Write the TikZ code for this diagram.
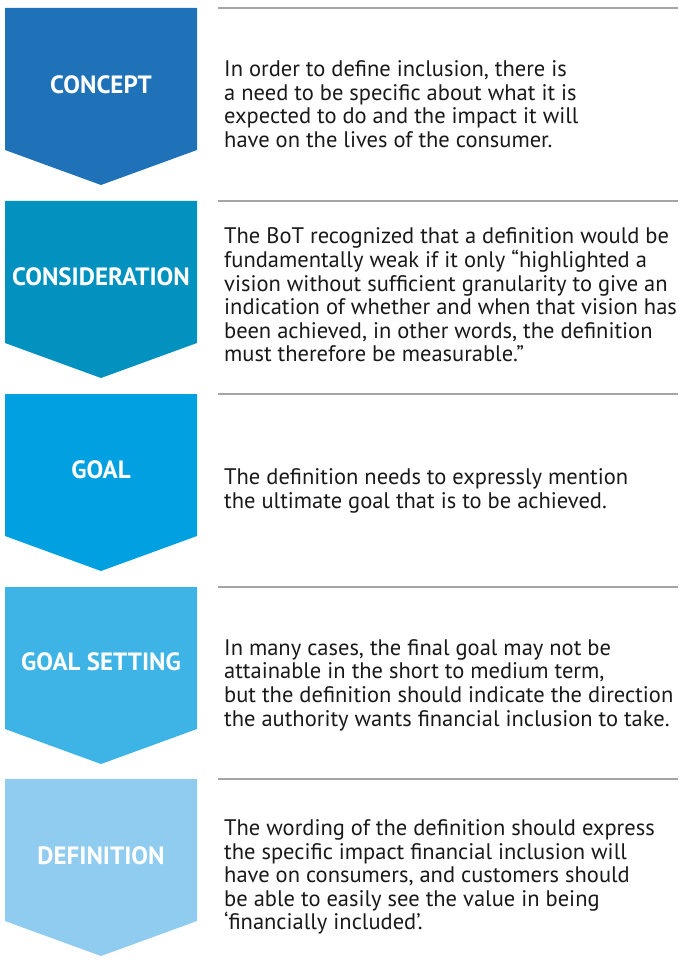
\documentclass[tikz,border=0pt]{standalone}
\usepackage{fontspec}
\setmainfont{PT Sans}
\definecolor{cConcept}{RGB}{31,113,184}
\definecolor{cConsid}{RGB}{3,145,192}
\definecolor{cGoal}{RGB}{0,160,225}
\definecolor{cGoalSet}{RGB}{62,180,230}
\definecolor{cDef}{RGB}{144,203,240}
\definecolor{rulegray}{RGB}{165,165,165}
\tikzset{
  chev/.style={fill=#1, draw=none},
  lbl/.style={text=white, font=\fontsize{25}{28}\selectfont\bfseries, inner sep=0pt},
  body/.style={anchor=west, align=left, inner sep=0pt, text=black!90,
    font=\fontsize{22.5}{23.6}\selectfont},
  sep/.style={draw=rulegray, line width=1.4pt}
}
\newcommand{\chevron}[3]{%
  \fill[chev=#2] (5,#1) -- (197,#1) -- (197,#1+142) -- (101,#1+177) -- (5,#1+142) -- cycle;
  \draw[sep] (218,#1) -- (678,#1);
}
\begin{document}
\begin{tikzpicture}[x=1pt,y=-1pt]
\useasboundingbox (0,0) rectangle (678,965);
\chevron{8}{cConcept}{}
\chevron{201}{cConsid}{}
\chevron{394}{cGoal}{}
\chevron{587}{cGoalSet}{}
\chevron{779}{cDef}{}
\node[lbl] (l1) at (101,85) {CONCEPT};
\node[lbl] (l2) at (101,277) {CONSIDERATION};
\node[lbl] (l3) at (101,470) {GOAL};
\node[lbl] (l4) at (101,662) {GOAL SETTING};
\node[lbl] (l5) at (101,856) {DEFINITION};
\node[body] (t1) at (224,104) {In order to define inclusion, there is\\a need to be specific about what it is\\expected to do and the impact it will\\have on the lives of the consumer.};
\node[body] (t2) at (224,295) {The BoT recognized that a definition would be\\fundamentally weak if it only “highlighted a\\vision without sufficient granularity to give an\\indication of whether and when that vision has\\been achieved, in other words, the definition\\must therefore be measurable.”};
\node[body] (t3) at (224,491) {The definition needs to expressly mention\\the ultimate goal that is to be achieved.};
\node[body] (t4) at (224,685) {In many cases, the final goal may not be\\attainable in the short to medium term,\\but the definition should indicate the direction\\the authority wants financial inclusion to take.};
\node[body] (t5) at (224,877) {The wording of the definition should express\\the specific impact financial inclusion will\\have on consumers, and customers should\\be able to easily see the value in being\\‘financially included’.};
\end{tikzpicture}
\end{document}
